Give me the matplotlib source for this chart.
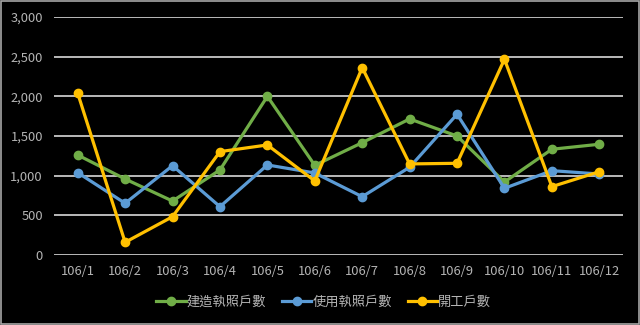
import matplotlib
matplotlib.use("Agg")
import matplotlib.pyplot as plt
from matplotlib.patches import Rectangle

months = ["106/1", "106/2", "106/3", "106/4", "106/5", "106/6",
          "106/7", "106/8", "106/9", "106/10", "106/11", "106/12"]
build_permit = [1260, 958, 680, 1072, 2000, 1130, 1416, 1715, 1500, 920, 1333, 1396]
use_permit = [1038, 652, 1126, 609, 1135, 1034, 735, 1106, 1774, 841, 1063, 1021]
starts = [2039, 160, 483, 1303, 1387, 933, 2362, 1148, 1156, 2467, 862, 1050]
series_names = ["建造執照戶數", "使用執照戶數", "開工戶數"]
yticks = [0, 500, 1000, 1500, 2000, 2500, 3000]

colors = ["#70ad47", "#5b9bd5", "#ffc000"]
txt = "#b4b4b4"
plt.rcParams['font.family'] = ['Noto Sans CJK TC', 'DejaVu Sans']

fig = plt.figure(figsize=(6.4, 3.25), dpi=100, facecolor="black")
ax = fig.add_axes([54/640, 1 - 255/325, (623-54)/640, (255-17)/325])
ax.set_facecolor("black")
x = list(range(len(months)))
for vals, c, name in zip([build_permit, use_permit, starts], colors, series_names):
    ax.plot(x, vals, color=c, lw=2.3, marker="o", ms=6, label=name, zorder=3)

ax.set_ylim(0, 3000)
ax.set_xlim(-0.5, len(months) - 0.5)
ax.set_yticks(yticks)
ax.set_yticklabels([f"{v:,}" for v in yticks])
ax.set_xticks(x)
ax.set_xticklabels(months)
ax.grid(axis="y", color="#d9d9d9", lw=1.2, zorder=0)
for s in ax.spines.values():
    s.set_visible(False)
ax.tick_params(length=0, colors=txt, labelsize=9.3, pad=7)
ax.tick_params(axis="y", pad=8)

leg = fig.legend(loc="center", bbox_to_anchor=(0.506, 1 - 302/325), ncol=3,
                 frameon=False, fontsize=9.5, labelcolor=txt, handlelength=2.2,
                 handletextpad=0.1, columnspacing=1.2)

fig.add_artist(Rectangle((0.001, 0.002), 0.997, 0.995, transform=fig.transFigure,
                         fill=False, edgecolor="#a6a6a6", lw=1.2))
fig.savefig("out.png", dpi=100, facecolor="black")
